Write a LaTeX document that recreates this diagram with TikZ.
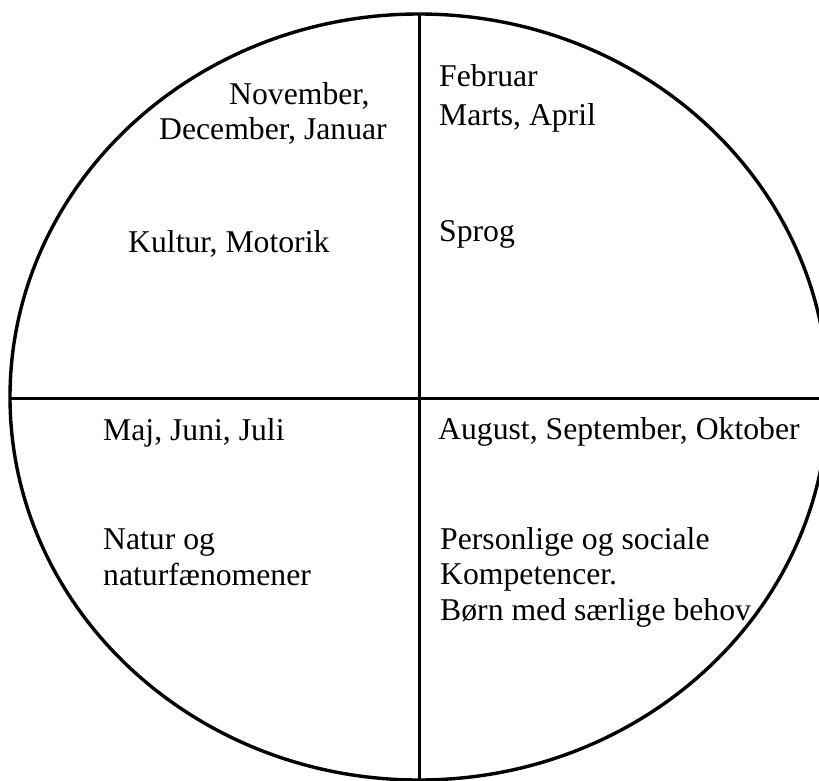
\documentclass[tikz,border=0pt]{standalone}
\usepackage{fontspec}
\setmainfont{Liberation Serif}
\begin{document}
\begin{tikzpicture}[x=1pt,y=-1pt,
  ring/.style={line width=3.4pt},
  divider/.style={line width=3pt},
  lbl/.style={anchor=base west,inner sep=0pt,align=left,
    font=\fontsize{31.7}{35.5}\selectfont}]
\useasboundingbox (0,0) rectangle (819,780);
\draw[ring] (419,397) ellipse [x radius=409, y radius=383];
\coordinate (top) at (419,13);
\coordinate (bot) at (419,782);
\coordinate (lft) at (10,398);
\coordinate (rgt) at (830,398);
\draw[divider] (top) -- (bot);
\draw[divider] (lft) -- (rgt);
\node[lbl] (nov) at (229,104) {November,};
\node[lbl] (dec) at (159,139) {December, Januar};
\node[lbl] (kul) at (128,252) {Kultur, Motorik};
\node[lbl] (feb) at (439,125) {Februar\\[3pt]Marts, April};
\node[lbl] (spr) at (439,241) {Sprog};
\node[lbl] (maj) at (103,440) {Maj, Juni, Juli};
\node[lbl] (aug) at (438,439) {August, September, Oktober};
\node[lbl] (nat) at (103,585) {Natur og\\naturfænomener};
\node[lbl] (per) at (440,620) {Personlige og sociale\\Kompetencer.\\Børn med særlige behov};
\end{tikzpicture}
\end{document}
